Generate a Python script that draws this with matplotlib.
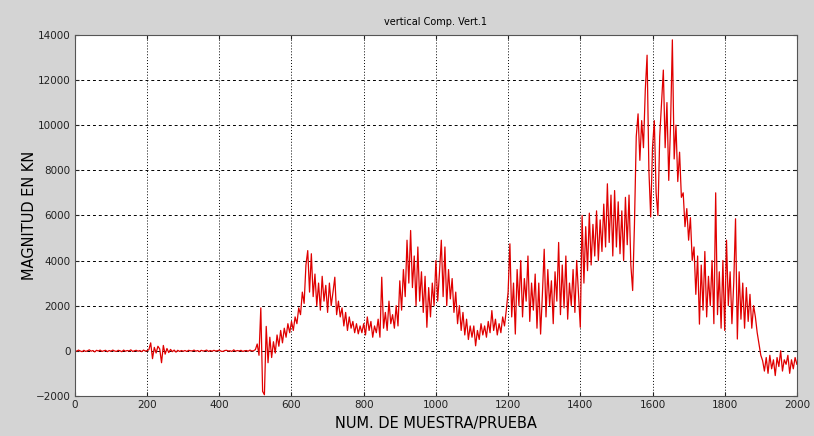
import matplotlib.pyplot as plt
import numpy as np

# signal, one value every 5 samples
seg_0000 = [10, -20, 30, -10, -40, 20, -30, 0, 40, -20, 10, -50, 20, -10, 30, -30, 0, 20, -40, 10,
            -20, 30, -10, -30, 20, 0, -40, 30, -20, 10, -10, 40, -30, 0, 20, -20, 10, -40, 30, -10]
seg_0200 = [0, 50, 350, -350, 150, -100, 200, 80, -530, 235, -150, 100, -80, 60, -40, 30, -60, 20, -30, 10]
seg_0300 = [-20, 10, -30, 20, 0, -10, 30, -20, 10, -40, 20, -10, 0, 30, -30, 10, -20, 20, -10, 0,
            30, -20, -30, 10, 20, -10, 0, -30, 40, -20, 10, -10, 20, -30, 0, 10, -20, 30, -10, 0]
seg_0500 = [50, 300, -200, 1900, -1800, -1950, 1080, -530, 600, -300, 400, -100, 700, 200, 900, 350, 1000, 600, 1200, 800]
seg_0600 = [1300, 900, 1500, 1200, 1900, 1600, 2600, 2100, 3800, 4440, 2600, 4300, 2400, 3400, 2000, 3000, 1800, 3300, 2200, 2900]
seg_0700 = [1700, 3000, 2000, 2600, 3260, 1600, 2200, 1500, 1900, 1100, 1700, 900, 1500, 1000, 1300, 800, 1200, 750, 1100, 800]
seg_0800 = [1200, 700, 1500, 900, 1300, 600, 1100, 800, 1400, 600, 3260, 1000, 1700, 900, 2200, 1200, 1600, 1000, 2000, 1100]
seg_0900 = [3100, 1800, 3600, 2400, 4900, 3000, 5330, 2800, 4200, 2000, 4600, 2200, 3500, 1700, 3300, 1040, 2800, 1500, 3000, 2000]
seg_1000 = [4000, 2200, 3500, 4900, 2400, 4600, 2000, 3600, 2300, 3200, 1700, 2600, 1200, 2000, 900, 1700, 700, 1400, 500, 1100]
seg_1100 = [600, 1100, 220, 900, 500, 1200, 700, 1100, 600, 1300, 800, 1780, 900, 1400, 700, 1200, 800, 1500, 1100, 1800]
seg_1200 = [2600, 4740, 1500, 3000, 740, 3600, 2000, 4000, 1500, 3200, 2200, 4200, 1300, 3000, 1800, 3400, 1000, 3000, 740, 2500]
seg_1300 = [4500, 1500, 3600, 2000, 3100, 1200, 3500, 2200, 4800, 1600, 3800, 1900, 4200, 1400, 3000, 2000, 3600, 1700, 4000, 2500]
seg_1400 = [1040, 6000, 3000, 5500, 3550, 6100, 3800, 5600, 4200, 6200, 4000, 5800, 4400, 6500, 4600, 7400, 4800, 6900, 4200, 7100]
seg_1500 = [4600, 6600, 4300, 6200, 4000, 6800, 4700, 6900, 3800, 2670, 5600, 9500, 10500, 8440, 10200, 9000, 11550, 13100, 8000, 5930]
seg_1600 = [9000, 10200, 7000, 6000, 9500, 11000, 12440, 9000, 11000, 7550, 10000, 13780, 8500, 10000, 7500, 8800, 6800, 7000, 5500, 6300]
seg_1700 = [4900, 5900, 4000, 4600, 2500, 4200, 1180, 3800, 1800, 4400, 1500, 3300, 2000, 4000, 1200, 7000, 1600, 3500, 1000, 4000]
seg_1800 = [900, 4900, 2000, 3500, 1200, 3000, 5850, 520, 3500, 1400, 3000, 1000, 2800, 1300, 2500, 1000, 2000, 1500, 800, 300]
seg_1900 = [-200, -440, -900, -300, -1000, -200, -800, -400, -1100, -300, -700, 0, -900, -400, -600, -200, -1000, -400, -800, -300, -600]

magnitude = (seg_0000 + seg_0200 + seg_0300 + seg_0500 + seg_0600 + seg_0700 + seg_0800 + seg_0900
             + seg_1000 + seg_1100 + seg_1200 + seg_1300 + seg_1400 + seg_1500 + seg_1600 + seg_1700
             + seg_1800 + seg_1900)
sample = np.arange(len(magnitude)) * 5

x_ticks = [0, 200, 400, 600, 800, 1000, 1200, 1400, 1600, 1800, 2000]
y_ticks = [-2000, 0, 2000, 4000, 6000, 8000, 10000, 12000, 14000]

fig = plt.figure(figsize=(8.14, 4.36), dpi=100, facecolor='#d4d4d4')
ax = fig.add_axes([0.092, 0.092, 0.887, 0.828])
ax.plot(sample, magnitude, color='#e00000', lw=0.9)

ax.set_xlim(0, 2000)
ax.set_ylim(-2000, 14000)
ax.set_xticks(x_ticks)
ax.set_yticks(y_ticks)
ax.tick_params(direction='in', labelsize=7.5, colors='#222222', top=True, right=True, length=3, pad=3)
ax.xaxis.grid(True, color='black', linestyle=(0, (1, 2)), lw=0.7)
ax.yaxis.grid(True, color='black', linestyle=(0, (3, 3)), lw=0.7)
for s in ax.spines.values():
    s.set_color('#555555')

ax.set_title('vertical Comp. Vert.1', fontsize=7, pad=7)
ax.set_xlabel('NUM. DE MUESTRA/PRUEBA', fontsize=10.5, labelpad=4)
ax.set_ylabel('MAGNITUD EN KN', fontsize=10.5, labelpad=-1)

fig.savefig('out.png', dpi=100, facecolor=fig.get_facecolor())
